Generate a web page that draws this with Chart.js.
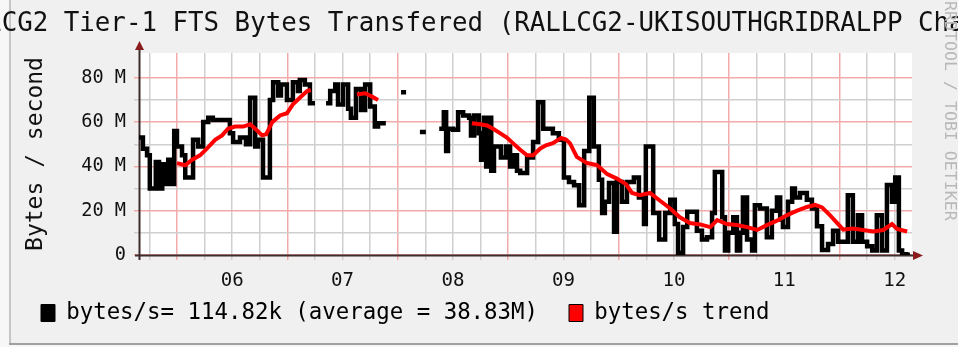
<!DOCTYPE html>
<html lang="en">
<head>
  <meta charset="UTF-8">
  <title>RAL-LCG2 Tier-1 FTS Bytes Transfered</title>
  <script src="https://cdn.jsdelivr.net/npm/chart.js"></script>
  <style>
    body {
      margin: 0;
      background: #f0f0f0;
    }
    #wrap {
      width: 958px;
      height: 347px;
    }
  </style>
</head>
<body>
  <div id="wrap">
    <canvas id="fts" width="958" height="347"></canvas>
  </div>

  <script>
    // hours counted from 00:00 on day 05; a null breaks the line (no data)
    const rateHours = [
      15.75, 16.6, 17.5, 18.1, 19.4, 20.1, 20.8, 21.2, 22.1, 22.9, 23.4, 24.0, 25.1, 25.8, 27.5, 28.6,
      29.7, 30.8, 31.8, 35.5, 36.2, 37.7, 39.0, 39.9, 41.0, 41.6, 42.7, 44.2, 44.9, 46.0, 46.6, 47.9,
      49.2, 50.3, 50.7, 51.8, 52.9, 54.0, 55.0,
      56.4, 57.3, 58.4, 59.0, 60.1, 61.2, 61.8, 62.9, 64.0, 64.9, 66.0, 67.0, 67.7, 69.4, 70.5,
      72.7, 73.8, 75.0,
      76.8, 78.1, 79.5,
      81.0, 82.0, 82.5, 82.9, 84.0, 85.1, 86.2, 87.5, 87.9, 88.6, 89.6, 90.1, 90.7, 91.2, 91.8, 92.3,
      92.9, 94.4, 95.5, 96.4, 97.2, 97.9, 98.6, 100.1, 101.4, 102.5, 103.6, 105.7, 107.0, 108.1, 109.2, 110.3,
      111.4, 112.5, 113.6, 114.6, 115.7, 116.4, 117.0, 117.9, 119.0, 119.6, 120.7, 121.8, 123.3, 124.4, 125.5, 125.9,
      127.5, 128.8, 130.1, 131.2, 132.2, 132.9, 134.0, 134.9, 137.0, 138.1, 139.2, 140.3, 140.9, 142.5, 143.1, 143.8,
      144.9, 145.7, 146.4, 147.0, 147.9, 149.0, 149.6, 150.7, 152.2, 153.3, 154.4, 155.1, 155.7, 156.8, 157.7, 158.3,
      159.4, 160.9, 162.0, 163.1, 164.2, 165.5, 166.6, 167.7, 169.8, 170.9, 172.0, 172.9, 174.0, 175.1, 176.1, 177.2,
      178.3, 179.4, 180.1, 180.9, 181.6, 182.5, 183.3
    ];
    // bytes per second, in M
    const rateValues = [
      53, 48, 45, 30, 42, 30, 41, 32, 43, 32, 56, 49, 45, 35, 52, 49,
      60, 62, 61, 55, 51, 53, 50, 71, 49, 52, 35, 70, 78, 72, 77, 70,
      78, 74, 79, 77, 68.5, 68.5, null,
      68.5, 74, 77, 68, 77, 66, 62, 75, 65.5, 77, 67, 58, 59.5, 59.5, null,
      73.5, 73.5, null,
      55.5, 55.5, null,
      57, 64.5, 47, 57, 56.5, 64.5, 63, 62, 54, 63, 55, 43, 62, 40, 62, 38,
      49, 44, 49, 40, 45, 38, 37, 44, 51, 69, 57, 55, 52, 35, 33, 31.5,
      22.5, 47, 71, 49, 34, 19, 24, 32.5, 10.5, 33, 24, 33, 35, 26, 14, 49,
      19, 7, 19, 25, 14, 1, 12.6, 19.5, 11, 7, 8, 19, 37.5, 17, 2, 10,
      17, 2, 10, 26, 7, 2, 22.5, 21, 8, 20, 26, 16, 12.6, 24, 30, 26,
      28, 25, 21, 13, 2.3, 5, 11, 6, 27, 6, 18, 6, 4, 2, 18, 2,
      31.6, 24, 35, 2, 0.3, 0.11482, 0.11482
    ];

    const trendHours = [
      24.0, 25.8, 27.3, 29.0, 30.5, 32.3, 33.8, 35.1, 36.6, 38.4, 39.9, 41.0, 42.5, 43.4, 44.7, 46.4,
      47.9, 49.2, 50.7, 52.3, 53.1, 55.0,
      63.1, 64.9, 66.4, 67.7, 70.0,
      88.1, 89.9, 91.4, 92.7, 94.2, 95.7, 97.0, 98.6, 100.1, 101.4, 102.9, 104.2, 105.7, 107.5, 108.6, 109.4,
      110.9, 113.1, 115.3, 117.5, 119.6, 121.6, 122.9, 124.6, 126.8, 129.0, 131.2, 133.3, 135.5, 137.7, 139.9, 141.4,
      143.5, 145.7, 147.9, 150.1, 152.2, 154.4, 156.6, 158.8, 160.9, 162.7, 164.2, 165.9, 167.5, 168.8, 170.9, 173.1,
      175.3, 177.5, 179.4, 180.5, 182.7
    ];
    const trendValues = [
      41.5, 40.5, 43, 45, 48, 52, 54, 57, 58, 58, 59, 57, 54, 54.5, 60, 63,
      64, 68, 71, 74, 74.5, null,
      72.5, 73, 71.5, 70, null,
      59.5, 59, 58.5, 57, 55, 53, 50.5, 47.5, 45, 45, 48, 49.5, 50.5, 52.8, 52, 50.5,
      44.3, 41.5, 40.6, 36.5, 34.5, 32, 28, 27, 28, 24.5, 21, 17, 14.4, 13.8, 12.6, 15.8,
      14, 13.5, 12.6, 11.3, 13.5, 15.5, 18, 20, 21.7, 22.6, 21.5, 18, 14.4, 11.5, 12, 11.3,
      10.6, 11.3, 14, 11.8, 10.6
    ];

    const dayLabels = ["06", "07", "08", "09", "10", "11", "12"];
    const yTickValues = [0, 20, 40, 60, 80];
    const yTickLabels = ["0", "20 M", "40 M", "60 M", "80 M"];
    const legendTexts = ["bytes/s= 114.82k (average = 38.83M)", "bytes/s trend"];
    const titleText = "RAL-LCG2 Tier-1 FTS Bytes Transfered (RALLCG2-UKISOUTHGRIDRALPP Channel)";
    const footnote = "RRDTOOL / TOBI OETIKER";

    const MONO = "'DejaVu Sans Mono', monospace";
    const GRID = "#cfcfcf";
    const MGRID = "#f2aaaa";
    const AXIS = "#3c2c2c";
    const ARROW = "#8b1c1c";

    Chart.defaults.font.family = MONO;
    Chart.defaults.color = "#111";

    const pts = (xs, ys) => xs.map((x, i) => ({ x: x, y: ys[i] }));

    // white canvas, frame, title, axes with arrows, watermark
    const rrdLook = {
      id: "rrdLook",
      afterLayout(chart) {
        // the x axis box is kept short so the legend sits close;
        // widen its label clip area so the day labels are not cut off
        const sx = chart.scales.x;
        sx.bottom = sx.top + 36;
      },
      beforeDraw(chart) {
        const { ctx, chartArea: a } = chart;
        ctx.save();
        ctx.fillStyle = "#f0f0f0";
        ctx.fillRect(0, 0, chart.width, chart.height);
        ctx.fillStyle = "#f7f7f7";
        ctx.fillRect(0, 0, 9, chart.height);
        ctx.fillRect(0, 345, chart.width, 2);
        ctx.fillStyle = "#c6c6c6";
        ctx.fillRect(9, 0, 2, 345);
        ctx.fillStyle = "#a0a0a0";
        ctx.fillRect(9, 343, chart.width - 9, 2);
        ctx.fillStyle = "#ffffff";
        ctx.fillRect(a.left, a.top, a.right - a.left, a.bottom - a.top);

        ctx.fillStyle = "#111";
        ctx.font = "25.8px " + MONO;
        ctx.textBaseline = "alphabetic";
        ctx.textAlign = "left";
        ctx.fillText(titleText, -76, 31);

        ctx.translate(949, 1);
        ctx.rotate(Math.PI / 2);
        ctx.fillStyle = "#b8b8b8";
        ctx.font = "16.6px " + MONO;
        ctx.textBaseline = "middle";
        ctx.fillText(footnote, 0, 0);
        ctx.restore();
      },
      beforeDatasetsDraw(chart) {
        const { ctx, chartArea: a } = chart;
        ctx.save();
        ctx.strokeStyle = AXIS;
        ctx.lineWidth = 2;
        ctx.beginPath();
        ctx.moveTo(a.left - 4, a.bottom + 0.5);
        ctx.lineTo(a.right + 2, a.bottom + 0.5);
        ctx.moveTo(a.left + 0.5, a.bottom + 5);
        ctx.lineTo(a.left + 0.5, a.top - 4);
        ctx.stroke();
        ctx.fillStyle = ARROW;
        ctx.beginPath();
        ctx.moveTo(a.right + 1, a.bottom - 4);
        ctx.lineTo(a.right + 11, a.bottom + 0.5);
        ctx.lineTo(a.right + 1, a.bottom + 5);
        ctx.closePath();
        ctx.fill();
        ctx.beginPath();
        ctx.moveTo(a.left - 4, a.top - 3);
        ctx.lineTo(a.left + 0.5, a.top - 12);
        ctx.lineTo(a.left + 5, a.top - 3);
        ctx.closePath();
        ctx.fill();
        ctx.restore();
      }
    };

    new Chart(document.getElementById("fts"), {
      type: "line",
      data: {
        datasets: [
          {
            label: legendTexts[0],
            data: pts(rateHours, rateValues),
            borderColor: "#000000",
            backgroundColor: "#000000",
            borderWidth: 4.5,
            stepped: true,
            borderJoinStyle: "miter",
            pointRadius: 0,
            spanGaps: false,
            order: 2
          },
          {
            label: legendTexts[1],
            data: pts(trendHours, trendValues),
            borderColor: "#ff0000",
            backgroundColor: "#ff0000",
            borderWidth: 4,
            pointRadius: 0,
            spanGaps: false,
            order: 1
          }
        ]
      },
      options: {
        responsive: false,
        animation: false,
        events: [],
        layout: { padding: { top: 53, left: 10, right: 46, bottom: 12.8 } },
        scales: {
          x: {
            type: "linear",
            min: 15.75,
            max: 183.75,
            afterFit: s => { s.height = 15.8; },
            afterBuildTicks: s => {
              const t = [];
              for (let h = 18; h <= 180; h += 6) t.push({ value: h });
              s.ticks = t;
            },
            border: { display: false },
            grid: {
              color: c => (c.tick.value % 24 === 0 ? MGRID : GRID),
              lineWidth: 1.5,
              tickLength: 5
            },
            ticks: {
              autoSkip: false,
              maxRotation: 0,
              padding: 9.4,
              font: { size: 19.1 },
              color: "#111",
              callback: v => (v % 24 === 12 ? dayLabels[(v - 36) / 24] : "")
            }
          },
          y: {
            min: 0,
            max: 91.2,
            afterFit: s => { s.width = 129; },
            afterBuildTicks: s => {
              const t = [];
              for (let v = 0; v <= 80; v += 10) t.push({ value: v });
              s.ticks = t;
            },
            border: { display: false },
            grid: {
              color: c => (c.tick.value % 20 === 0 ? MGRID : GRID),
              lineWidth: 1.5,
              tickLength: 5
            },
            ticks: {
              autoSkip: false,
              padding: 8,
              font: { size: 18.6 },
              color: "#111",
              callback: v => {
                const i = yTickValues.indexOf(v);
                return i < 0 ? "" : yTickLabels[i];
              }
            },
            title: {
              display: true,
              text: "Bytes / second",
              font: { size: 23 },
              color: "#111",
              padding: { top: 12.2, bottom: 0 }
            }
          }
        },
        plugins: {
          tooltip: { enabled: false },
          legend: {
            position: "bottom",
            align: "start",
            labels: {
              boxWidth: 14,
              boxHeight: 17,
              padding: 31,
              color: "#111",
              font: { size: 22.4 },
              sort: (a, b) => a.datasetIndex - b.datasetIndex,
              generateLabels: chart => chart.data.datasets.map((d, i) => ({
                text: d.label,
                fillStyle: d.borderColor,
                strokeStyle: "#000000",
                lineWidth: 1,
                hidden: false,
                datasetIndex: i
              }))
            }
          }
        }
      },
      plugins: [rrdLook]
    });
  </script>
</body>
</html>
